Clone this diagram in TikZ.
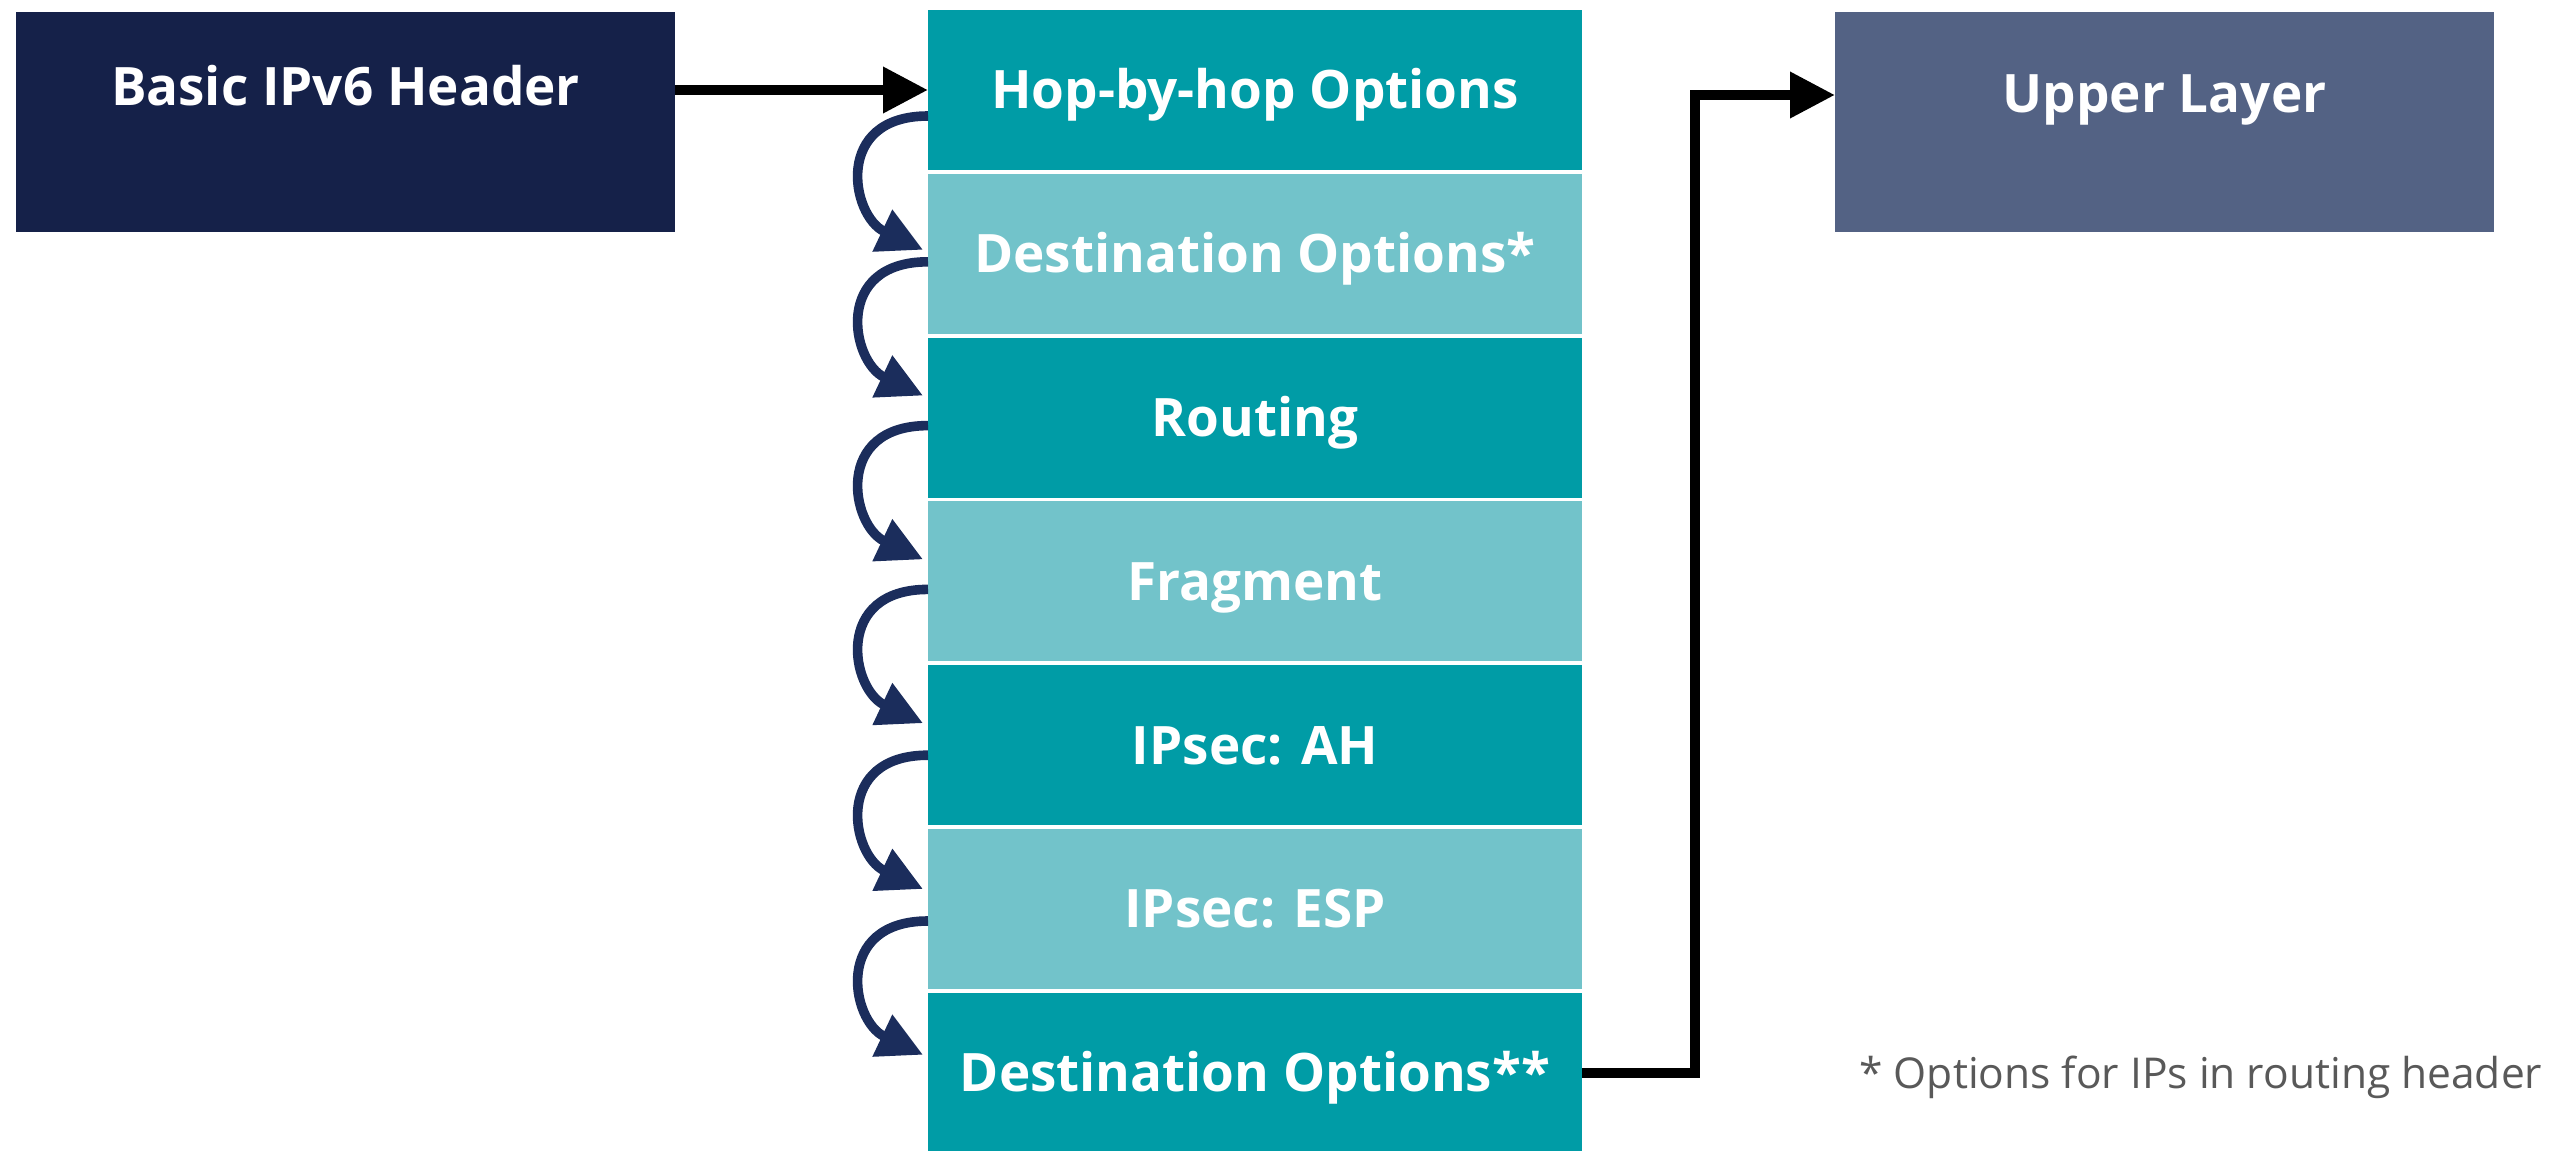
\documentclass[tikz,border=0pt]{standalone}
\usepackage{fontspec}
\setmainfont{Open Sans}
\usetikzlibrary{arrows.meta}
\usetikzlibrary{positioning}
\definecolor{navy}{RGB}{21,33,73}
\definecolor{slate}{RGB}{83,98,132}
\definecolor{tealdk}{RGB}{0,156,166}
\definecolor{teallt}{RGB}{114,195,202}
\definecolor{curlcol}{RGB}{27,45,92}
\definecolor{notegray}{RGB}{89,89,89}

\tikzset{
  hdr/.style={fill=tealdk, text=white, font=\fontsize{26.5}{30}\selectfont\bfseries,
    minimum width=327pt, minimum height=80pt, inner sep=0pt, outer sep=0pt,
    text height=25.4pt, text depth=6.6pt},
  hdrlt/.style={hdr, fill=teallt},
  bigbox/.style={text=white, font=\fontsize{26.5}{30}\selectfont\bfseries,
    minimum width=329.5pt, minimum height=110pt, inner sep=0pt, outer sep=0pt},
  blk/.style={->, line width=5pt, black},
  curl/.style={->, line width=4.8pt, curlcol},
}

\begin{document}
\begin{tikzpicture}[>={Triangle[length=22.5pt,width=22pt]},x=0.5pt,y=-0.5pt]
\useasboundingbox (0,0) rectangle (2572,1151);
% left and right boxes
\node[bigbox, fill=navy, text height=20pt, text depth=36.1pt] (basic) at (345.5,122) {Basic IPv6 Header};
\node[bigbox, fill=slate, text height=20pt, text depth=29.1pt] (upper) at (2164.5,122) {Upper Layer};
%
% extension header chain
\node[hdr] (hop) at (1255,90) {Hop-by-hop Options};
\node[hdrlt, below=1.9pt of hop] (dsto) {Destination Options*};
\node[hdr, below=1.9pt of dsto] (rout) {Routing};
\node[hdrlt, below=1.9pt of rout] (frag) {Fragment};
\node[hdr, below=1.9pt of frag] (ah) {IPsec: AH};
\node[hdrlt, below=1.9pt of ah] (esp) {IPsec: ESP};
\node[hdr, below=1.9pt of esp] (dstt) {Destination Options**};
%
\foreach \a/\b/\d in {hop/dsto/9,dsto/rout/0,rout/frag/0,frag/ah/0,ah/esp/1,esp/dstt/2}
  \draw[curl] ([yshift=-4pt-\d pt]\a.west) .. controls +(-95,0) and +(-72,-34) .. ([xshift=-2.5pt,yshift=11pt-\d pt]\b.west);
%
\draw[blk] (hop.west -| basic.east) -- (hop.west);
\draw[blk] (dstt.east) -- ++(113,0) |- ([yshift=13.5pt]upper.west);
%
\node[anchor=base west, text=notegray, font=\fontsize{21.25}{25}\selectfont, inner sep=0pt] (fnote) at (1859,1088) {* Options for IPs in routing header};
\end{tikzpicture}
\end{document}
